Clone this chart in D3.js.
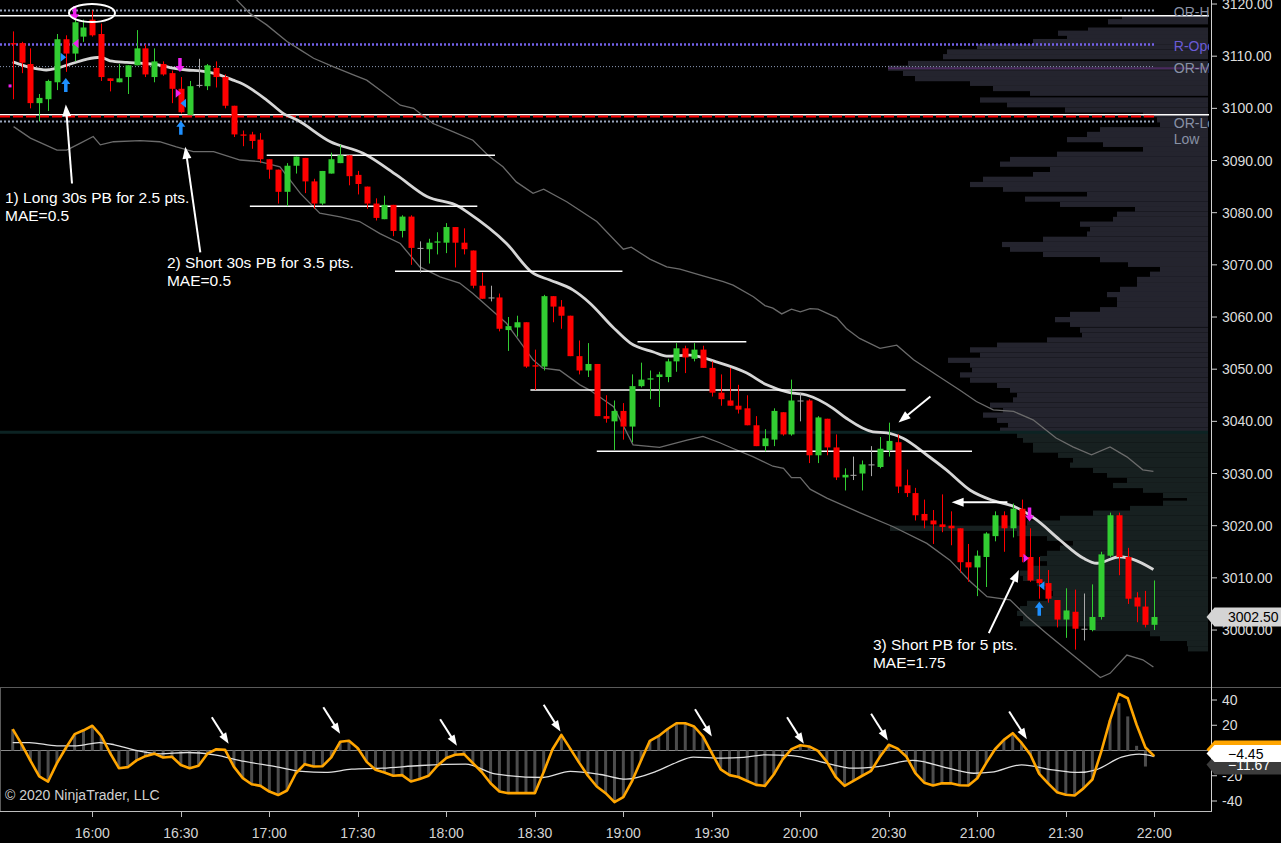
<!DOCTYPE html>
<html>
<head>
<meta charset="utf-8">
<script src="https://cdn.jsdelivr.net/npm/d3@7"></script>
<style>
  html, body { margin: 0; padding: 0; background: #000; }
  svg { display: block; }
  text { font-family: "Liberation Sans", Arial, sans-serif; }
</style>
</head>
<body>
<svg id="chart" width="1281" height="843"></svg>
<script>
// ---- data (3 minute bars from 15:33 to 22:00) ----
const barStart = new Date(2020, 0, 2, 15, 33);
const barMinutes = 3;

const opens = [3112.5,3112.5,3108.5,3101,3101.75,3105,3113.25,3110.5,3113.75,3117,
  3114.25,3105.75,3105,3106,3108.25,3111.5,3106,3108.5,3106.75,3103.75,
  3098.75,3104.5,3104.25,3107.75,3106,3100.5,3095,3095,3094,3090.25,
  3088.25,3084,3089,3090.5,3086,3081.75,3087.5,3089.5,3091,3087.25,
  3085,3081.75,3078.75,3081.5,3076.5,3079.25,3073.25,3073,3074.25,3074.25,
  3077.25,3074.25,3072.75,3066,3063.75,3063.75,3057.5,3058,3059,3050.75,
  3050.5,3064,3062,3060.25,3052.5,3049.75,3051,3041,3040,3042,
  3039,3046.75,3048,3048.5,3048.5,3051.5,3054,3052,3053.75,3050.25,
  3045.5,3044,3043,3042.5,3039.25,3035.25,3036.5,3041.75,3037.5,3044,
  3044,3033.5,3040.5,3035,3029.25,3029.75,3030,3031.75,3031.25,3034.5,
  3036,3027.75,3026.25,3022.25,3021,3020.25,3020,3019.5,3013,3012,
  3014,3018,3022,3019.5,3023.25,3014,3009.75,3009,3005.75,3002,
  3003.5,3000.25,3000,3002.5,3014.25,3022,3014,3006.25,3004.5,3001];
const highs = [3114.75,3112.75,3111.5,3102.75,3105.5,3114.25,3114,3117,3117,3118.75,
  3116.25,3105.75,3108.5,3108.25,3115,3112.25,3111.5,3109,3107.25,3106,
  3105.25,3109.5,3108.5,3109,3106.5,3100.5,3095.75,3095.5,3095.25,3090.25,
  3088.25,3089.5,3090.75,3090.5,3086.5,3088,3091.5,3093,3091,3088,
  3085,3082.75,3083.25,3081.5,3079.5,3079.5,3074.5,3075,3076.25,3078,
  3077.25,3077,3072.75,3068.5,3066,3064.5,3060,3060.25,3059,3053.75,
  3064.25,3064,3063.25,3060.25,3055.5,3055,3051,3045,3044,3043.5,
  3049,3051.25,3049.75,3049.5,3052,3055,3054.5,3055,3054.5,3051.5,
  3049,3050.25,3047,3045,3041,3038.5,3042.5,3041.75,3048,3045.5,
  3044.25,3041,3040.5,3037.5,3031,3033.25,3032.5,3035.25,3037,3039.75,
  3037.5,3030.75,3027.25,3025,3023,3026,3022.75,3019.5,3016.5,3015.25,
  3018.75,3022.75,3022.75,3024.25,3025,3019.5,3014,3011.5,3005.75,3008,
  3007.75,3007,3008.75,3015,3022.5,3022.5,3015.75,3007.25,3007.5,3009.5];
const lows = [3101.75,3106.75,3100,3097.5,3099.5,3103.5,3107,3109,3112.75,3113.75,
  3105.25,3103.25,3105,3102.75,3108.25,3106,3105,3106.25,3101,3099,
  3098.75,3104,3103.5,3104,3100,3094.5,3092.75,3092.25,3089.5,3086.5,
  3081.75,3081.25,3087.5,3083.75,3080.75,3081.5,3087.5,3089.5,3085.25,3083.5,
  3080.75,3078.5,3078.75,3075.5,3075.25,3070,3068.5,3070.25,3072,3072.25,
  3069.5,3072,3065.5,3063.5,3063,3057.25,3053.5,3056.25,3050.25,3046,
  3049.75,3059,3057.75,3052.5,3049,3048.5,3041,3039.75,3034.5,3036.5,
  3036,3046.5,3044.25,3042.75,3047.5,3049.5,3049.25,3051.5,3050.25,3044.75,
  3043,3043,3041.5,3039.25,3035.25,3034.25,3035.25,3037.25,3037.25,3040,
  3032,3032,3033.5,3028.75,3026.75,3028.75,3026.75,3029.5,3031,3033.25,
  3026.25,3025.5,3021,3019.5,3016.5,3018.75,3016.25,3011,3009.25,3006.5,
  3008.25,3017,3015,3017.75,3013,3009.25,3006,3005.25,3000.5,2998.5,
  2996.25,2998,2999.75,3002,3014,3010.5,3005,3001.5,3000.5,3000];
const closes = [3112.25,3108.75,3101,3102,3105.25,3113.25,3110.5,3116.5,3115.5,3114,
  3106,3105.25,3105.75,3108.25,3111.5,3106.5,3109,3106.5,3103.75,3099.25,
  3104.25,3104.5,3108.25,3106,3100.5,3095,3094.75,3093.75,3090.25,3088.25,
  3084,3089,3090.75,3086,3081.75,3088,3090.25,3091,3087,3085.5,
  3081.75,3079,3081.5,3076.5,3079.25,3073.25,3073.25,3074.25,3074.5,3077.25,
  3074.25,3073,3066,3063.5,3063.75,3057.75,3058.25,3059,3050.5,3050.5,
  3064,3062,3060.25,3052.5,3049.75,3051,3041,3040.5,3042,3039,
  3046.75,3048,3048.25,3049,3051.5,3054,3052.25,3053.75,3050.25,3045.5,
  3044.25,3043,3042.25,3039.25,3035.25,3036.75,3042,3037.5,3044,3044,
  3033.5,3040.75,3035,3029.25,3029.75,3029.75,3031.75,3031.75,3034.75,3036.25,
  3027.5,3026.25,3022,3021,3020.25,3019.75,3019.5,3013,3012,3014.25,
  3018.5,3022,3019.5,3023.25,3014,3009.5,3009,3006,3002,3003.75,
  3000.25,3000.25,3002.5,3014.5,3022,3014,3006,3004.5,3001,3002.5];

// moving average and bands: [bar index, price]
const emaPts = [[0,3108.9],[2.3,3107.7],[3.8,3107.35],[5,3107.7],[6.9,3108.7],[8.4,3109.45],[9.9,3109.8],
  [11,3109.1],[12.9,3108.8],[14.8,3108.6],[16.6,3108.3],[18.1,3107.7],[19.7,3107.35],[21.2,3107.2],
  [23,3106.6],[24.9,3105.4],[25.7,3104.9],[28.7,3101.6],[30.6,3099],[32.1,3097.8],[35.9,3093.6],[39.6,3091.4],
  [43.4,3087.2],[46.8,3083.1],[50.5,3081.1],[51.3,3080.2],[55.8,3074.1],[58.8,3068.4],[60.7,3067.1],
  [63.3,3065.2],[65.2,3062.7],[67.8,3058.1],[69.8,3055],[72.4,3053.3],[73.9,3052.5],[76.5,3052.7],
  [79.5,3051.4],[82.9,3049.3],[85.2,3047],[87.8,3045.5],[89.7,3045.05],[92.7,3042.5],[94.2,3040.6],
  [97.2,3038],[98.8,3037.8],[100.6,3036.75],[103.3,3033.55],[105.5,3030.7],[108.2,3026.8],[110.8,3024.8],
  [113.4,3023.5],[115.7,3021.1],[118.3,3017.3],[121,3013.75],[122.5,3012.8],[125.1,3014.05],[126.6,3013.55],
  [128.9,3011.6]];
const upperBand = [[25.3,3120.8],[26.8,3118.2],[28.7,3116],[31,3112.8],[32.5,3111.2],[34,3109.6],[36.2,3108],
  [38.5,3106.4],[40,3105.4],[41.5,3103.5],[43.8,3100.6],[45.3,3100],[47.5,3097.1],[49.8,3095.5],[52,3093.9],
  [53.9,3090.7],[55.4,3088.8],[56.9,3085.9],[58.8,3083.7],[60,3084.5],[62.6,3082.1],[66,3078.3],[69,3073],
  [69.9,3073.4],[72,3071.1],[73.9,3069.6],[75.4,3069.2],[78,3067.9],[80.3,3066.8],[81.4,3066.1],[83.7,3063.9],
  [85,3062.2],[85.9,3061.7],[86.9,3060.6],[88,3061.5],[89,3061],[90.1,3061.6],[91,3061.5],[93.1,3059.9],
  [94.2,3057.8],[95.7,3055.9],[98,3054],[99.9,3054.6],[101.8,3051.8],[104.4,3048.9],[107,3046],[108.9,3043.8],
  [110.8,3042.2],[113.1,3041.9],[115.3,3040.3],[117.9,3036.8],[119.8,3035.1],[121.9,3033.6],[124,3035.1],
  [125.9,3033.2],[127.7,3030.7],[128.9,3030.4]];
const lowerBand = [[0.1,3096.5],[2,3094.3],[5,3092],[6.1,3092],[7.6,3093.3],[9.1,3094.6],[9.9,3093],[11.4,3093.6],
  [14.4,3093.8],[16.6,3093.6],[18.5,3092.6],[20.4,3091.7],[22.7,3091.7],[25.7,3090.1],[27.9,3089.8],[30.2,3088.8],
  [32.5,3083.7],[34.7,3079.9],[37,3079.2],[39.2,3078.3],[41.5,3076],[43.8,3074.1],[46,3069.6],[48.3,3067.7],
  [50.5,3066.5],[52,3064.5],[55.8,3058.8],[58.8,3051.8],[59.9,3050.2],[61.8,3049.8],[64.1,3047],[65.2,3046],
  [67.9,3042.8],[70.1,3035.5],[73.1,3035],[76.2,3036.4],[78,3037.1],[79.9,3035.9],[81.4,3034.8],[83.7,3033.2],
  [85.9,3031.4],[87.1,3031],[88,3029.2],[89,3029.2],[90.1,3027],[92,3025.3],[95.7,3022.5],[99.5,3019.8],
  [103.3,3016.6],[105.9,3013.4],[108.2,3009.3],[110.1,3006.4],[112.7,3005.8],[114.6,3002.6],[116.8,2999.4],
  [119.8,2995.2],[122.9,2990.9],[124,2991.7],[125.9,2995.2],[127.7,2994.3],[128.9,2992.9]];

// volume profile (price level, volume in hundreds)
const profilePrices = [3117.3,3116.6,3115,3114.4,3113.7,3112.8,3111.8,3110.8,3109.9,3108.6,3107.7,3106.7,3105.7,
  3104.8,3103.8,3102.9,3101.6,3100.7,3099.7,3098.8,3097.8,3096.9,3095.9,3095,3094,3093.1,3092.1,3091.2,3090.2,
  3089.3,3088.3,3087.3,3086.4,3085.4,3084.5,3083.5,3082.6,3081.6,3080.7,3079.7,3078.7,3077.8,3076.8,3075.9,
  3074.9,3073.9,3073,3072,3071,3070.1,3069.1,3068.2,3067.2,3066.2,3065.3,3064.3,3063.4,3062.4,3061.4,3060.5,
  3059.5,3058.6,3057.5,3056.5,3055.6,3054.6,3053.7,3052.7,3051.7,3050.8,3049.8,3048.9,3047.9,3046.9,3046,
  3045,3044.1,3043.1,3042.1,3041.2,3040.2,3039.3,3038.3,3037.3,3036.4,3035.4,3034.5,3033.5,3032.5,3031.6,
  3030.6,3029.7,3028.7,3027.7,3026.8,3025.8,3025.2,3024.3,3023.3,3022.4,3021.4,3020.5,3019.5,3018.5,3017.6,
  3016.6,3015.7,3014.7,3013.7,3012.8,3011.8,3010.9,3009.9,3008.9,3008,3007,3006,3005.1,3004.1,3003.2,3002.2,
  3001.2,3000.3,2999.3,2998.4,2997.4,2996.4];
const profileVols = [8.6,10,12,15,14.1,17.5,23.1,26.1,26.5,30,32,30.5,29.3,23.8,21.5,17.8,22.8,20.1,14.3,6.5,
  5.1,4.8,10.8,12.1,14.1,10.5,6.5,15.1,19.8,20.8,15.8,17.5,22.5,23.8,20.5,12.1,18.3,14.8,7.3,9.1,
  9.5,12.8,11.8,12.1,16.5,20.6,19.8,16.5,10.8,8,4.8,5.8,7.1,7.1,8.8,10.1,9.1,9.1,10.8,13.8,
  15.3,13.8,12.8,12.6,16.1,21.1,23.8,22.8,26,23.8,23.6,24.8,23.8,21.1,19.8,19.1,19.5,21.8,20.5,22.5,
  21.1,20,20.8,19.1,18.5,17.5,17.5,15,13.5,13.8,11.5,10.1,8.1,9.5,6.5,4.5,2.1,4.5,7.8,11.5,
  14.8,18.1,31.8,19.1,16.1,13.5,14.8,16.1,16.8,16.1,17.5,18.8,18.5,17.1,16.1,15.5,16.1,18.1,18.8,19.1,
  18.5,18.8,11.5,5.8,4.8,2.1,2];
const profileSplit = 3037.9;   // upper / lower profile shading
const profilePocs = [[3107.7, "#4a2a5e"], [3037.9, "#0c2323"]];

// oscillator panel
const oscVals = [16.9,5,-8,-20.5,-24.6,-10,2,13,16,19.6,
  11.6,-2,-14,-13.2,-7.8,-4.5,-2.5,-5.5,-5,-11.5,
  -14,-12.1,-2.5,1,0.5,-13,-21.9,-26.7,-28,-32.5,
  -35.3,-31.7,-18,-10.8,-12.7,-12.5,-5.5,6.9,7.7,1.8,
  -9,-15.3,-17.5,-20,-19.5,-24.6,-22.5,-20,-12,-6,
  -3.4,-2.9,-10,-17,-26,-32.5,-33.8,-33.8,-33.8,-33.8,
  -17,1,12.4,1.5,-9.6,-20,-28.5,-33.8,-40.9,-37,
  -24,-8,7.7,11.5,17,21.6,21.6,19,11.1,-2,
  -15,-19.5,-21,-24.2,-27.2,-28,-19,-7,1.1,4.2,
  3.2,-0.3,-9,-21,-28,-24,-20,-16.1,-5,4.5,
  1.5,-5,-18,-25.5,-27.7,-26,-26,-27.5,-27.7,-22,
  -10,1,8.4,13.7,6,-3.4,-18.5,-26,-33,-35.1,
  -35.6,-30,-23,-1,24,44.9,41.4,20.4,2.4,-4.45];
const histTail = [37.5, 27, 3.7, -12.7, 0];   // last five histogram bars
const signalPts = [[0,6.3],[1.9,6.3],[5,3.7],[7.2,3.7],[9.8,6.3],[11.5,4.5],[13.7,0.5],[16.7,-2.6],[19.7,-1.6],
  [22.8,-3.4],[26.2,-8.7],[29.7,-12.7],[32.7,-16.6],[35.3,-17.4],[38.3,-14.8],[41.8,-14],[46.1,-11.9],
  [51.2,-10.8],[54.5,-18.5],[59.9,-21.4],[63,-16.6],[66.4,-19],[69.3,-22.7],[72.7,-16.6],[75,-9.5],
  [76.9,-5.3],[80.1,-6.1],[82.6,-5.5],[85,-3.4],[88,-4],[91.9,-10],[94.9,-14],[97.8,-12.7],[101.7,-7.9],
  [105.7,-14],[108.6,-18],[110.6,-17.2],[114,-11.4],[117.5,-15.3],[120.4,-17.4],[122.4,-15.3],[125.3,-5.3],
  [127.3,-2.9],[129,-4.8]];
const signalLast = -11.67;

const priceTicks = d3.range(3000, 3121, 10);
const oscTicks = [40, 20, 0, -20, -40];

// horizontal levels
const levels = [
  { price: 3118.75, stroke: "#9aa6bd", width: 2, dash: "2,2", toEnd: false },
  { price: 3117.75, stroke: "#ffffff", width: 1.5, dash: null, toEnd: true },
  { price: 3112.25, stroke: "#7260e8", width: 2.5, dash: "2,2", toEnd: false },
  { price: 3108, stroke: "#8d9ab8", width: 1, dash: "1,2", toEnd: false },
  { price: 3098.75, stroke: "#ffffff", width: 1.5, dash: null, toEnd: true },
  { price: 3098.45, stroke: "#ff0000", width: 2, dash: "10,3", toEnd: false },
  { price: 3097.5, stroke: "#9aa6bd", width: 2, dash: "2,2", toEnd: false }
];
const levelLabels = [["OR-High", 3118.5, "#8891a5"], ["R-Open", 3112.0, "#6b5bd6"], ["OR-Mid", 3107.7, "#8891a5"],
  ["OR-Low", 3097.15, "#8891a5"], ["Low", 3094.1, "#8891a5"]];

// drawn annotations: [price, fromBar, toBar]
const srLines = [[3091, 28.7, 54.5], [3081.25, 26.8, 52.5], [3068.75, 43.2, 68.9],
  [3055.25, 70.6, 82.9], [3046, 58.5, 100.9], [3034.25, 66, 108.4]];
// arrows: [tailBar, tailPrice, tipBar, tipPrice]
const priceArrows = [[6.7, 3085.6, 6.0, 3100.75], [21.2, 3072.4, 19.5, 3092.65], [103.7, 3044.75, 100.1, 3039.8],
  [112.4, 3024.5, 106.1, 3024.5], [110.3, 2999.4, 113.7, 3011.5]];
const oscArrows = [[22.5, 26.4, 24.4, 5.3], [35.1, 34.3, 37, 13.2], [48.3, 24.8, 50.2, 3.7], [60, 36.2, 61.9, 15],
  [77.1, 32.7, 79, 11.1], [87.5, 26.4, 89.4, 5.3], [97, 29.1, 98.9, 7.9], [112.6, 30.9, 114.6, 9]];
const notes = [
  { bar: -0.87, price: 3081.85, lines: ["1) Long 30s PB for 2.5 pts.", "MAE=0.5"] },
  { bar: 17.43, price: 3069.4, lines: ["2) Short 30s PB for 3.5 pts.", "MAE=0.5"] },
  { bar: 97.2, price: 2996.2, lines: ["3) Short PB for 5 pts.", "MAE=1.75"] }
];
const highlight = { bar: 8.96, price: 3118.27 };
const markers = [
  { type: "down", color: "#f020f0", bar: 7, price: 3116.9 },
  { type: "right", color: "#1e90ff", bar: 5.7, price: 3109.8 },
  { type: "up", color: "#1e90ff", bar: 6, price: 3105.8 },
  { type: "left", color: "#f020f0", bar: 7.15, price: 3112.45 },
  { type: "dot", color: "#f020f0", bar: -0.3, price: 3104.3 },
  { type: "down", color: "#f020f0", bar: 18.9, price: 3106.95 },
  { type: "right", color: "#f020f0", bar: 18.7, price: 3102.9 },
  { type: "left", color: "#1e90ff", bar: 19.3, price: 3101 },
  { type: "up", color: "#1e90ff", bar: 19, price: 3097.6 },
  { type: "down", color: "#f020f0", bar: 114.9, price: 3020.8 },
  { type: "right", color: "#f020f0", bar: 114.5, price: 3013.75 },
  { type: "left", color: "#1e90ff", bar: 116.3, price: 3008.5 },
  { type: "up", color: "#1e90ff", bar: 116, price: 3005.4 }
];

// ---- scales ----
const svg = d3.select("#chart");
const plotRight = 1211, mainBottom = 686, oscTop = 687, oscBottom = 811;
const barTime = i => new Date(barStart.getTime() + i * barMinutes * 60000);
const x = d3.scaleTime().domain([barTime(0), barTime(closes.length - 1)]).range([12.7, 1154.3]);
const xb = i => x(barTime(i));
const y = d3.scaleLinear().domain([2989.27, 3120.77]).range([mainBottom, 0]);
const yo = d3.scaleLinear().domain([-40, 40]).range([801, 700]);
const vol = d3.scaleLinear().domain([0, 32]).range([0, 320]);
const lastX = xb(closes.length - 1);

svg.append("rect").attr("width", 1281).attr("height", 843).attr("fill", "#000");
const defs = svg.append("defs");
defs.append("clipPath").attr("id", "mainClip").append("rect")
  .attr("x", 0).attr("y", 0).attr("width", plotRight - 2).attr("height", mainBottom);
defs.append("clipPath").attr("id", "oscClip").append("rect")
  .attr("x", 0).attr("y", oscTop + 1).attr("width", plotRight - 1).attr("height", oscBottom - oscTop - 1);

const main = svg.append("g").attr("clip-path", "url(#mainClip)");

// volume profile
const profRight = plotRight - 3;
main.append("g").selectAll("rect").data(profilePrices).join("rect")
  .attr("x", (p, k) => profRight - vol(profileVols[k]))
  .attr("width", (p, k) => vol(profileVols[k]))
  .attr("y", p => y(p + 0.5))
  .attr("height", p => y(p - 0.5) - y(p + 0.5))
  .attr("fill", p => p >= profileSplit ? "#24242e" : "#172020");
main.append("line").attr("x1", 0).attr("x2", profRight).attr("y1", y(profilePocs[1][0])).attr("y2", y(profilePocs[1][0]))
  .attr("stroke", profilePocs[1][1]).attr("stroke-width", 3);
main.append("line").attr("x1", profRight - vol(d3.max(profileVols))).attr("x2", profRight)
  .attr("y1", y(profilePocs[0][0])).attr("y2", y(profilePocs[0][0]))
  .attr("stroke", profilePocs[0][1]).attr("stroke-width", 2);

// level lines
main.append("g").selectAll("line").data(levels).join("line")
  .attr("x1", 0).attr("x2", d => d.toEnd ? profRight + 1 : lastX)
  .attr("y1", d => y(d.price)).attr("y2", d => y(d.price))
  .attr("stroke", d => d.stroke).attr("stroke-width", d => d.width)
  .attr("stroke-dasharray", d => d.dash);

// bands and average
const bandLine = d3.line().x(d => xb(d[0])).y(d => y(d[1]));
main.append("path").datum(upperBand).attr("d", bandLine).attr("fill", "none").attr("stroke", "#6b6b6b").attr("stroke-width", 1.3);
main.append("path").datum(lowerBand).attr("d", bandLine).attr("fill", "none").attr("stroke", "#6b6b6b").attr("stroke-width", 1.3);
main.append("path").datum(emaPts).attr("d", bandLine.curve(d3.curveMonotoneX))
  .attr("fill", "none").attr("stroke", "#d6d6d6").attr("stroke-width", 2.8);

// annotation lines
main.append("g").selectAll("line").data(srLines).join("line")
  .attr("x1", d => xb(d[1])).attr("x2", d => xb(d[2]))
  .attr("y1", d => y(d[0])).attr("y2", d => y(d[0]))
  .attr("stroke", "#fff").attr("stroke-width", 1.5);

// candles
const bars = closes.map((c, i) => ({ i, o: opens[i], h: highs[i], l: lows[i], c }));
const colorOf = d => d.c > d.o ? "#32cd32" : d.c < d.o ? "#ff0000" : "#a8a8a8";
const cx = d => Math.round(xb(d.i)) + 0.5;
const cg = main.append("g");
cg.selectAll("line").data(bars).join("line")
  .attr("x1", cx).attr("x2", cx).attr("y1", d => y(d.h)).attr("y2", d => y(d.l))
  .attr("stroke", colorOf).attr("stroke-width", 1);
cg.selectAll("rect").data(bars).join("rect")
  .attr("x", d => cx(d) - 3).attr("width", 6)
  .attr("y", d => y(Math.max(d.o, d.c)))
  .attr("height", d => Math.max(1, Math.abs(y(d.o) - y(d.c))))
  .attr("fill", colorOf);

// signal markers
const markerShape = {
  up: "M0,0 L-4.5,6 L-1.75,6 L-1.75,14 L1.75,14 L1.75,6 L4.5,6 Z",
  down: "M0,0 L-4.5,-6 L-1.75,-6 L-1.75,-14 L1.75,-14 L1.75,-6 L4.5,-6 Z",
  right: "M-2.5,-4.5 L3,0 L-2.5,4.5 Z",
  left: "M2.5,-4.5 L-3,0 L2.5,4.5 Z",
  dot: "M-1.5,-1.5 h3 v3 h-3 Z"
};
main.append("g").selectAll("path").data(markers).join("path")
  .attr("d", d => markerShape[d.type])
  .attr("transform", d => `translate(${xb(d.bar)},${y(d.price)})`)
  .attr("fill", d => d.color);

// arrows
function drawArrow(g, x1, y1, x2, y2, hl, hw) {
  const dx = x2 - x1, dy = y2 - y1, len = Math.hypot(dx, dy);
  const ux = dx / len, uy = dy / len, px = -uy, py = ux;
  const bx = x2 - ux * hl, by = y2 - uy * hl;
  g.append("line").attr("x1", x1).attr("y1", y1).attr("x2", bx + ux).attr("y2", by + uy)
    .attr("stroke", "#fff").attr("stroke-width", 2);
  g.append("polygon")
    .attr("points", [[x2, y2], [bx + px * hw / 2, by + py * hw / 2], [bx - px * hw / 2, by - py * hw / 2]].map(p => p.join(",")).join(" "))
    .attr("fill", "#fff");
}
const ag = main.append("g");
priceArrows.forEach(a => drawArrow(ag, xb(a[0]), y(a[1]), xb(a[2]), y(a[3]), 12, 9));

main.append("ellipse").attr("cx", xb(highlight.bar)).attr("cy", y(highlight.price))
  .attr("rx", 23).attr("ry", 9).attr("fill", "none").attr("stroke", "#fff").attr("stroke-width", 2);

const noteText = main.append("g").selectAll("text").data(notes).join("text")
  .attr("x", d => xb(d.bar)).attr("y", d => y(d.price))
  .attr("fill", "#fff").style("font-size", "15.5px");
noteText.selectAll("tspan").data(d => d.lines.map(t => ({ t, x: xb(d.bar) }))).join("tspan")
  .attr("x", d => d.x).attr("dy", (d, k) => k === 0 ? 0 : 17.8).text(d => d.t);

main.append("g").selectAll("text").data(levelLabels).join("text")
  .attr("x", lastX + 19.5).attr("y", d => y(d[1]) + 5)
  .attr("fill", d => d[2]).style("font-size", "14px").text(d => d[0]);

// ---- oscillator panel ----
const osc = svg.append("g").attr("clip-path", "url(#oscClip)");
osc.append("line").attr("x1", 0).attr("x2", plotRight).attr("y1", yo(0)).attr("y2", yo(0))
  .attr("stroke", "#8a8a8a").attr("stroke-width", 1);
const histVals = oscVals.slice(0, oscVals.length - histTail.length).concat(histTail);
osc.append("g").selectAll("rect").data(histVals).join("rect")
  .attr("x", (v, i) => xb(i) - 1.5).attr("width", 3)
  .attr("y", v => Math.min(yo(v), yo(0))).attr("height", v => Math.abs(yo(v) - yo(0)))
  .attr("fill", "#4d4d4d");
osc.append("path").datum(signalPts)
  .attr("d", d3.line().x(d => xb(d[0])).y(d => yo(d[1])).curve(d3.curveMonotoneX))
  .attr("fill", "none").attr("stroke", "#e0e0e0").attr("stroke-width", 1.3);
osc.append("path").datum(oscVals)
  .attr("d", d3.line().x((v, i) => xb(i)).y(v => yo(v)))
  .attr("fill", "none").attr("stroke", "#ffa500").attr("stroke-width", 2.6).attr("stroke-linejoin", "round");
const og = osc.append("g");
oscArrows.forEach(a => drawArrow(og, xb(a[0]), yo(a[1]), xb(a[2]), yo(a[3]), 11, 8));
osc.append("text").attr("x", 5).attr("y", 800).attr("fill", "#d0d0d0").style("font-size", "14px")
  .text("\u00a9 2020 NinjaTrader, LLC");

// ---- frame and axes ----
const frame = svg.append("g");
frame.append("line").attr("x1", 0).attr("x2", 1281).attr("y1", oscTop + 0.5).attr("y2", oscTop + 0.5)
  .attr("stroke", "#5a5a5a");
frame.append("line").attr("x1", 0.5).attr("x2", 0.5).attr("y1", oscTop).attr("y2", oscBottom).attr("stroke", "#5a5a5a");
frame.append("line").attr("x1", 0).attr("x2", plotRight + 1).attr("y1", oscBottom + 0.5).attr("y2", oscBottom + 0.5)
  .attr("stroke", "#bdbdbd");
frame.append("line").attr("x1", plotRight + 0.5).attr("x2", plotRight + 0.5).attr("y1", 0).attr("y2", oscBottom)
  .attr("stroke", "#d0d0d0");

// price axis
const pa = frame.append("g").selectAll("g").data(priceTicks).join("g");
pa.append("line").attr("x1", plotRight).attr("x2", plotRight + 6).attr("y1", p => y(p)).attr("y2", p => y(p)).attr("stroke", "#d0d0d0");
pa.append("text").attr("x", plotRight + 11).attr("y", p => y(p) + 5).attr("fill", "#dcdcdc")
  .style("font-size", "14px").text(d3.format(".2f"));

// oscillator axis
const oa = frame.append("g").selectAll("g").data(oscTicks).join("g");
oa.append("line").attr("x1", plotRight).attr("x2", plotRight + 6).attr("y1", v => yo(v)).attr("y2", v => yo(v)).attr("stroke", "#d0d0d0");
oa.append("text").attr("x", plotRight + 11).attr("y", v => yo(v) + 5).attr("fill", "#dcdcdc")
  .style("font-size", "14px").text(v => v);

// time axis
const timeTicks = x.ticks(d3.timeMinute.every(30));
const ta = frame.append("g").selectAll("g").data(timeTicks).join("g");
ta.append("line").attr("x1", t => Math.round(x(t)) + 0.5).attr("x2", t => Math.round(x(t)) + 0.5)
  .attr("y1", oscBottom).attr("y2", oscBottom + 6).attr("stroke", "#bdbdbd");
ta.append("text").attr("x", t => x(t)).attr("y", oscBottom + 27).attr("text-anchor", "middle")
  .attr("fill", "#d4d4d4").style("font-size", "14px").text(d3.timeFormat("%H:%M"));

// value tags
function tag(g, cy, top, bot, fill, label, textFill, baseline) {
  const x0 = plotRight - 4.5;
  g.append("polygon")
    .attr("points", [[x0, cy], [x0 + 8, top], [1281, top], [1281, bot], [x0 + 8, bot]].map(p => p.join(",")).join(" "))
    .attr("fill", fill);
  if (label) g.append("text").attr("x", plotRight + 17).attr("y", baseline).attr("fill", textFill)
    .style("font-size", "14px").text(label);
}
const tags = svg.append("g");
const lastClose = closes[closes.length - 1];
const pc = y(lastClose);
tag(tags, pc, pc - 9.5, pc + 9.5, "#d4d4d4", d3.format(".2f")(lastClose), "#000", pc + 5);
const oc = yo(oscVals[oscVals.length - 1]) - 2.5;
tag(tags, oc - 4, oc - 13, oc + 4, "#ffa500", null);
tag(tags, oc + 11, oc + 2, oc + 21, "#3c3c3c", d3.format(".2f")(signalLast), "#fff", oc + 16);
tag(tags, oc, oc - 8.5, oc + 8.5, "#ffffff", d3.format(".2f")(oscVals[oscVals.length - 1]), "#000", oc + 5);
</script>
</body>
</html>
